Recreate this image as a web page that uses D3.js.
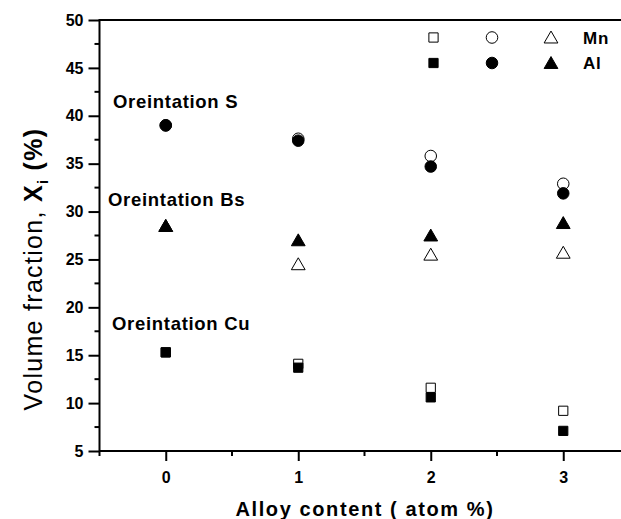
<!DOCTYPE html>
<html>
<head>
<meta charset="utf-8">
<script src="https://cdn.jsdelivr.net/npm/d3@7"></script>
<style>
  body { margin: 0; background: #fff; }
  text { font-family: "Liberation Sans", Arial, sans-serif; fill: #000; }
</style>
</head>
<body>
<div id="chart"></div>
<script>
// alloy content (atom %)
var alloy = [0, 1, 2, 3];

// volume fractions
var cuMn = [15.3, 14.1, 11.6, 9.2];
var cuAl = [15.3, 13.7, 10.6, 7.1];
var sMn  = [39.0, 37.6, 35.8, 32.9];
var sAl  = [39.0, 37.4, 34.7, 31.9];
var bsMn = [28.5, 24.5, 25.5, 25.7];
var bsAl = [28.5, 27.0, 27.5, 28.8];

var yTicks = [5, 10, 15, 20, 25, 30, 35, 40, 45, 50];
var xTicks = [0, 1, 2, 3];

var width = 621, height = 519;
var plotLeft = 99.5, plotTop = 20, plotBottom = 451;

var svg = d3.select("#chart").append("svg")
    .attr("width", width)
    .attr("height", height);

var x = d3.scaleLinear().domain([-0.5, 3.5]).range([plotLeft, plotLeft + 530]);
var y = d3.scaleLinear().domain([5, 50]).range([plotBottom, plotTop]);

// top frame line
svg.append("line")
    .attr("x1", plotLeft).attr("x2", width)
    .attr("y1", y(50)).attr("y2", y(50))
    .attr("stroke", "#000").attr("stroke-width", 2);

// x axis
var xAxis = svg.append("g")
    .attr("transform", "translate(0," + plotBottom + ")")
    .call(d3.axisBottom(x).tickValues(xTicks).tickFormat(d3.format("d")).tickSize(10).tickPadding(11))
    .attr("font-size", 16).attr("font-weight", "bold")
    .attr("font-family", "Liberation Sans, Arial, sans-serif");
xAxis.select(".domain").remove();
xAxis.append("line").attr("x1", plotLeft).attr("x2", width).attr("stroke", "#000").attr("stroke-width", 2);
xAxis.selectAll(".tick line").attr("stroke-width", 2);
xAxis.selectAll(".minor")
    .data([-0.5, 0.5, 1.5, 2.5])
    .enter().append("line")
    .attr("class", "minor")
    .attr("x1", function(d) { return x(d); }).attr("x2", function(d) { return x(d); })
    .attr("y1", 0).attr("y2", 5)
    .attr("stroke", "#000").attr("stroke-width", 2);

// y axis
var yAxis = svg.append("g")
    .attr("transform", "translate(" + plotLeft + ",0)")
    .call(d3.axisLeft(y).tickValues(yTicks).tickSize(11).tickPadding(5))
    .attr("font-size", 16).attr("font-weight", "bold")
    .attr("font-family", "Liberation Sans, Arial, sans-serif");
yAxis.select(".domain").remove();
yAxis.append("line").attr("y1", plotTop - 1).attr("y2", plotBottom + 1).attr("stroke", "#000").attr("stroke-width", 2);
yAxis.selectAll(".tick line").attr("stroke-width", 2);
yAxis.selectAll(".minor")
    .data([7.5, 12.5, 17.5, 22.5, 27.5, 32.5, 37.5, 42.5, 47.5])
    .enter().append("line")
    .attr("class", "minor")
    .attr("y1", function(d) { return y(d); }).attr("y2", function(d) { return y(d); })
    .attr("x1", 0).attr("x2", -5)
    .attr("stroke", "#000").attr("stroke-width", 2);

// axis titles
svg.append("text")
    .attr("x", 365).attr("y", 516)
    .attr("text-anchor", "middle")
    .style("font-size", "20px").style("font-weight", "bold")
    .style("letter-spacing", "1.6px")
    .text("Alloy content ( atom %)");

var ylab = svg.append("text")
    .attr("transform", "translate(42,269) rotate(-90)")
    .attr("text-anchor", "middle")
    .style("font-size", "25px")
    .style("letter-spacing", "1.3px");
ylab.append("tspan").text("Volume fraction, ");
ylab.append("tspan").style("font-weight", "bold").text("X");
ylab.append("tspan").style("font-weight", "bold").style("font-size", "15px").attr("dy", 6).text("i");
ylab.append("tspan").style("font-weight", "bold").attr("dy", -6).text(" (%)");

// annotations
var notes = [
  { label: "Oreintation S", px: 113, py: 108 },
  { label: "Oreintation Bs", px: 108, py: 206 },
  { label: "Oreintation Cu", px: 112, py: 330 }
];
svg.selectAll(".note")
    .data(notes)
    .enter().append("text")
    .attr("class", "note")
    .attr("x", function(d) { return d.px; })
    .attr("y", function(d) { return d.py; })
    .style("font-size", "18.5px").style("font-weight", "bold")
    .style("letter-spacing", "0.7px")
    .text(function(d) { return d.label; });

// markers
var sq = d3.symbol().type(d3.symbolSquare).size(85);
var ci = d3.symbol().type(d3.symbolCircle).size(105);
var tr = d3.symbol().type(d3.symbolTriangle).size(82);

var series = [
  { vals: cuMn, sym: sq, fill: "#fff", dy: 0 },
  { vals: sMn,  sym: ci, fill: "#fff", dy: 0 },
  { vals: bsMn, sym: tr, fill: "#fff", dy: 1.5 },
  { vals: cuAl, sym: sq, fill: "#000", dy: 0 },
  { vals: sAl,  sym: ci, fill: "#000", dy: 0 },
  { vals: bsAl, sym: tr, fill: "#000", dy: 1.5 }
];

series.forEach(function(s) {
  svg.append("g").selectAll("path")
    .data(s.vals)
    .enter().append("path")
    .attr("d", s.sym)
    .attr("transform", function(d, i) { return "translate(" + x(alloy[i]) + "," + (y(d) + s.dy) + ")"; })
    .attr("fill", s.fill)
    .attr("stroke", "#000")
    .attr("stroke-width", 1);
});

// legend
var legend = [
  { name: "Mn", fill: "#fff", ly: 37.5 },
  { name: "Al", fill: "#000", ly: 63 }
];
var legSyms = [{ sym: sq, lx: 433.5 }, { sym: ci, lx: 492 }, { sym: tr, lx: 551 }];
legend.forEach(function(l) {
  legSyms.forEach(function(m) {
    svg.append("path")
      .attr("d", m.sym)
      .attr("transform", "translate(" + m.lx + "," + (l.ly + (m.sym === tr ? 1.5 : 0)) + ")")
      .attr("fill", l.fill)
      .attr("stroke", "#000")
      .attr("stroke-width", 1);
  });
  svg.append("text")
    .attr("x", 583).attr("y", l.ly + 6)
    .style("font-size", "17px").style("font-weight", "bold")
    .style("letter-spacing", "0.8px")
    .text(l.name);
});
</script>
</body>
</html>
